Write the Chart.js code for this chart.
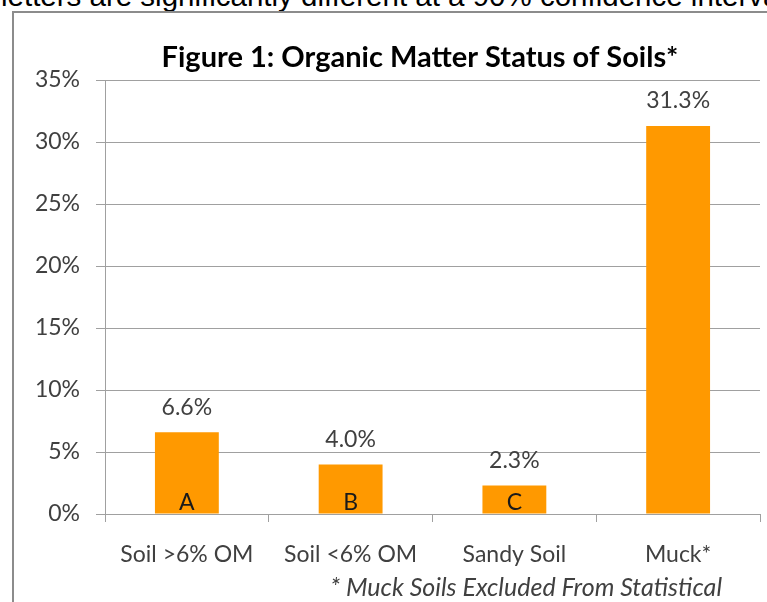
<!DOCTYPE html>
<html>
<head>
<meta charset="utf-8">
<script src="https://cdn.jsdelivr.net/npm/chart.js@4"></script>
<style>
  body { margin: 0; width: 767px; height: 602px; overflow: hidden; background: #fff; position: relative; }
  .topnote { position: absolute; left: 1px; top: -19px; font: 29.5px/29.5px "Liberation Sans", Arial, sans-serif; color: #000; white-space: nowrap; }
  .frame { position: absolute; left: 12px; top: 11px; width: 900px; height: 800px; border-left: 2px solid #8c8c8c; border-top: 2px solid #8c8c8c; }
  canvas { position: absolute; left: 0; top: 0; }
</style>
</head>
<body>
<div class="topnote">letters are significantly different at a 90% confidence interval</div>
<div class="frame"></div>
<canvas id="omChart" width="767" height="602"></canvas>
<script>
const categories = ['Soil >6% OM', 'Soil <6% OM', 'Sandy Soil', 'Muck*'];
const omValues = [6.6, 4.0, 2.3, 31.3];
const groupLetters = ['A', 'B', 'C', ''];
const yTicks = [0, 5, 10, 15, 20, 25, 30, 35];

const textGray = '#404040';
const gridGray = '#a0a0a0';
const fontName = 'Lato, "Open Sans", sans-serif';

// value labels above the bars and the letters inside them
const barLabels = {
    id: 'barLabels',
    afterDatasetsDraw(chart) {
        const ctx = chart.ctx;
        const meta = chart.getDatasetMeta(0);
        ctx.save();
        ctx.textAlign = 'center';
        ctx.textBaseline = 'middle';
        ctx.font = '23px ' + fontName;
        meta.data.forEach((bar, i) => {
            ctx.fillStyle = textGray;
            ctx.fillText(omValues[i].toFixed(1) + '%', bar.x, bar.y - 25);
            ctx.fillStyle = '#1a1a1a';
            ctx.fillText(groupLetters[i], bar.x, bar.base - 11);
        });
        ctx.restore();
    }
};

// title sits a bit right of centre, footnote under the axis labels
const textBits = {
    id: 'textBits',
    afterDraw(chart) {
        const ctx = chart.ctx;
        const area = chart.chartArea;
        ctx.save();
        ctx.textBaseline = 'middle';
        ctx.font = 'bold 29px ' + fontName;
        ctx.fillStyle = '#000';
        ctx.textAlign = 'center';
        ctx.fillText('Figure 1: Organic Matter Status of Soils*', area.left + 315, 58);
        ctx.font = 'italic 25px ' + fontName;
        ctx.fillStyle = textGray;
        ctx.textAlign = 'right';
        ctx.fillText('* Muck Soils Excluded From Statistical', area.right - 38, 588);
        ctx.restore();
    }
};

new Chart(document.getElementById('omChart'), {
    type: 'bar',
    data: {
        labels: categories,
        datasets: [{
            data: omValues,
            backgroundColor: '#ff9900',
            borderWidth: 0,
            categoryPercentage: 1,
            barPercentage: 0.39
        }]
    },
    options: {
        responsive: false,
        animation: false,
        devicePixelRatio: 1,
        layout: { padding: { left: 0, right: 7, top: 80, bottom: 0 } },
        plugins: {
            legend: { display: false },
            tooltip: { enabled: false },
            title: { display: false }
        },
        scales: {
            y: {
                min: 0,
                max: 35,
                afterBuildTicks(scale) { scale.ticks = yTicks.map(v => ({ value: v })); },
                afterFit(scale) { scale.width = 105; },
                ticks: {
                    color: textGray,
                    padding: 16,
                    font: { family: fontName, size: 23 },
                    callback: v => v + '%'
                },
                grid: { color: gridGray, lineWidth: 1, tickLength: 9 },
                border: { color: gridGray, width: 1 }
            },
            x: {
                afterFit(scale) { scale.height = 88; },
                ticks: {
                    color: textGray,
                    padding: 19,
                    font: { family: fontName, size: 23 }
                },
                grid: { drawOnChartArea: false, drawTicks: true, tickLength: 8, color: gridGray, offset: true },
                border: { color: gridGray, width: 1 }
            }
        }
    },
    plugins: [barLabels, textBits]
});
</script>
</body>
</html>
